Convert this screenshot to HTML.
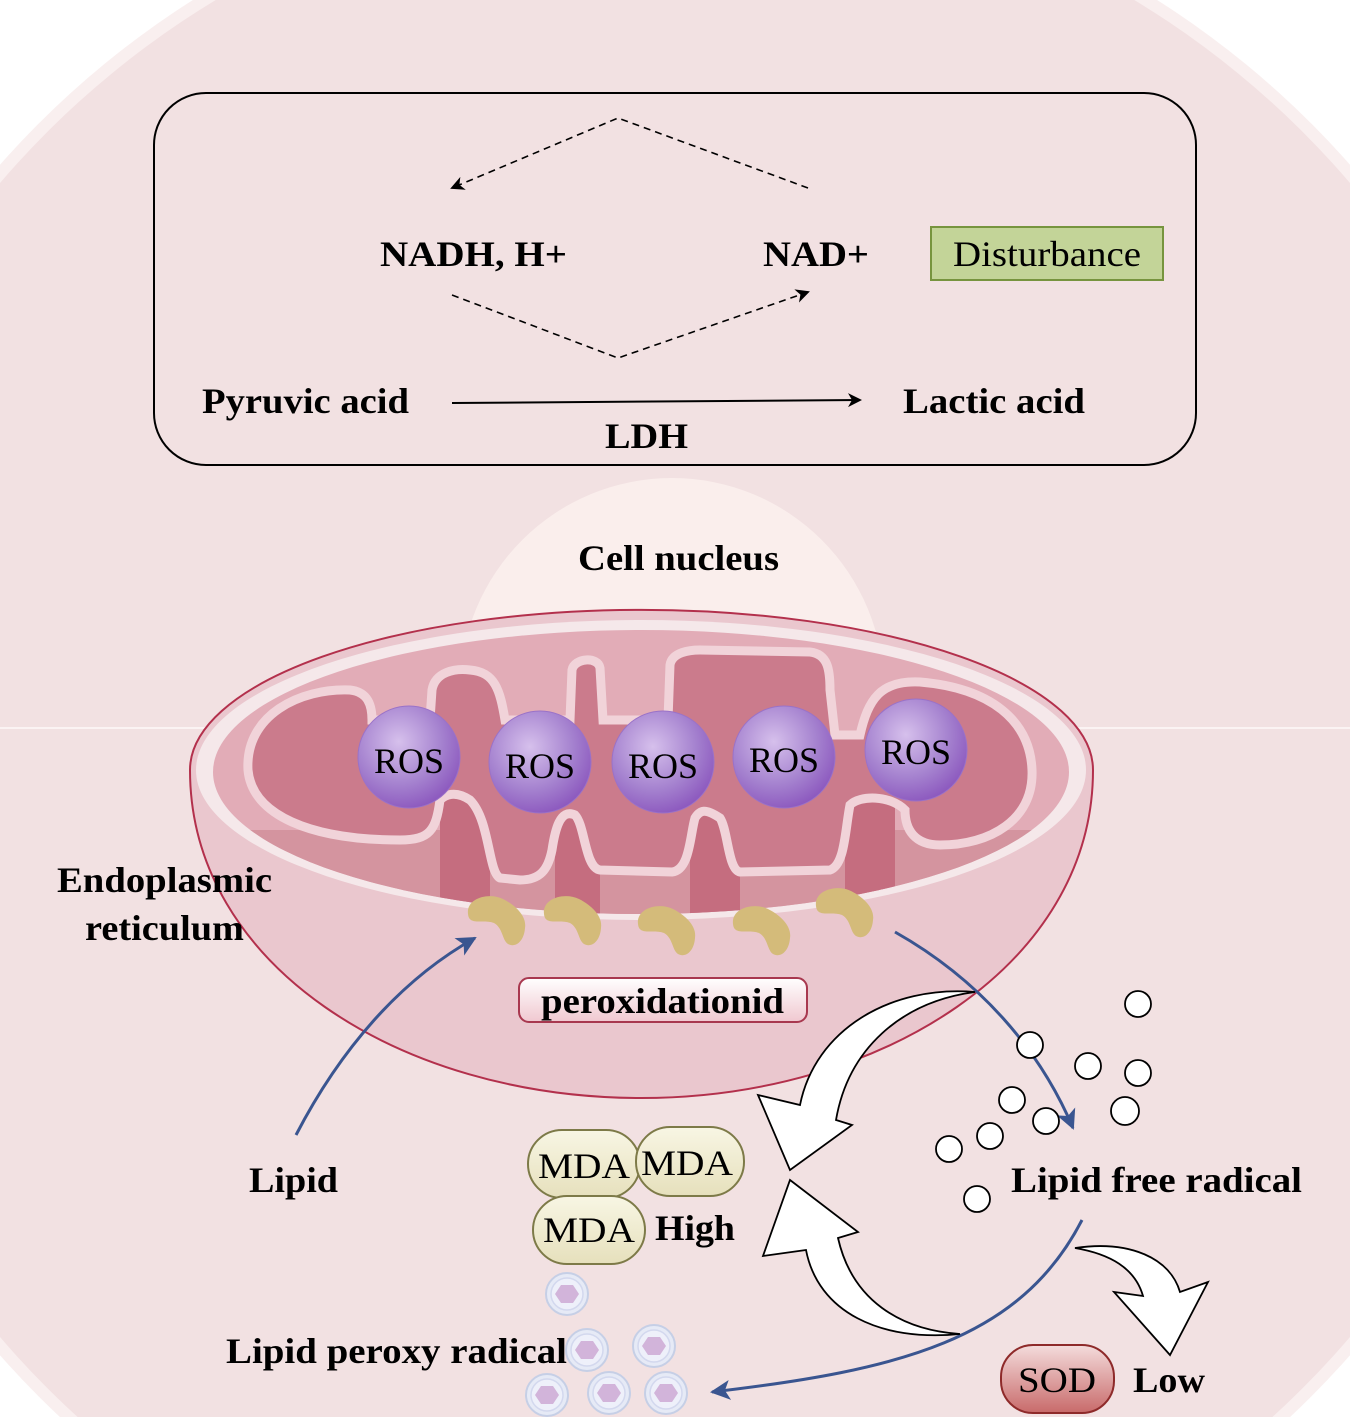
<!DOCTYPE html>
<html><head><meta charset="utf-8"><style>
html,body{margin:0;padding:0;background:#fff;width:1350px;height:1417px;overflow:hidden}
svg{display:block}
text{font-family:"Liberation Serif",serif}
.b{font-weight:bold}
</style></head><body>
<svg width="1350" height="1417" viewBox="0 0 1350 1417" xmlns="http://www.w3.org/2000/svg">
<defs>
<radialGradient id="ros" cx="0.4" cy="0.35" r="0.7">
<stop offset="0" stop-color="#d6c0ec"/><stop offset="0.6" stop-color="#a582cf"/><stop offset="1" stop-color="#8a55bd"/>
</radialGradient>
<linearGradient id="mda" x1="0" y1="0" x2="0" y2="1"><stop offset="0" stop-color="#f8f6e4"/><stop offset="1" stop-color="#e6e0bc"/></linearGradient>
<linearGradient id="sod" x1="0" y1="0" x2="0" y2="1"><stop offset="0" stop-color="#f4dcdc"/><stop offset="1" stop-color="#c86a6a"/></linearGradient>
<linearGradient id="per" x1="0" y1="0" x2="0" y2="1"><stop offset="0" stop-color="#ffffff"/><stop offset="1" stop-color="#f0c8d0"/></linearGradient>
<clipPath id="inner"><ellipse cx="641" cy="772" rx="428" ry="142"/></clipPath>
<marker id="ah" markerWidth="14" markerHeight="14" refX="12" refY="7" orient="auto" markerUnits="userSpaceOnUse"><path d="M0,0 L14,7 L0,14 L4,7Z" fill="#000"/></marker>
<marker id="bh" markerWidth="24" markerHeight="20" refX="18" refY="10" orient="auto" markerUnits="userSpaceOnUse"><path d="M0,0 L20,10 L0,20 L5,10Z" fill="#3a5590"/></marker>
<g id="blob"><path d="M-29,-4 C-31,-20 -8,-26 6,-19 C18,-13 30,-2 28,10 C27,24 18,30 11,26 C5,22 6,10 -3,5 C-14,1 -28,8 -29,-4Z" fill="#d4bb7a"/></g>
<g id="pc"><circle r="21" fill="#e6eaf6" stroke="#c6cfe6" stroke-width="2"/><circle r="16" fill="#eef0fa" stroke="#d3d8ee" stroke-width="1.5"/><polygon points="-12,0 -6,-9 6,-9 12,0 6,9 -6,9" fill="#d2b4da"/></g>
</defs>

<circle cx="675" cy="760" r="900" fill="#f9efef"/>
<circle cx="675" cy="760" r="888" fill="#f2e1e2"/>
<line x1="0" y1="728" x2="1350" y2="728" stroke="#fbf3f3" stroke-width="2"/>

<rect x="154" y="93" width="1042" height="372" rx="52" fill="none" stroke="#000" stroke-width="2"/>
<path d="M808,188 L618,118 L452,188" fill="none" stroke="#000" stroke-width="1.6" stroke-dasharray="7,5" marker-end="url(#ah)"/>
<path d="M452,295 L618,358 L808,292" fill="none" stroke="#000" stroke-width="1.6" stroke-dasharray="7,5" marker-end="url(#ah)"/>
<line x1="452" y1="403" x2="860" y2="400" stroke="#000" stroke-width="2" marker-end="url(#ah)"/>
<text class="b" x="380" y="266" font-size="36" textLength="187" lengthAdjust="spacingAndGlyphs">NADH, H+</text>
<text class="b" x="763" y="266" font-size="36" textLength="106" lengthAdjust="spacingAndGlyphs">NAD+</text>
<rect x="931" y="227" width="232" height="53" fill="#c3d498" stroke="#77943e" stroke-width="2"/>
<text x="953" y="266" font-size="36" textLength="188" lengthAdjust="spacingAndGlyphs">Disturbance</text>
<text class="b" x="202" y="413" font-size="36" textLength="207" lengthAdjust="spacingAndGlyphs">Pyruvic acid</text>
<text class="b" x="903" y="413" font-size="36" textLength="182" lengthAdjust="spacingAndGlyphs">Lactic acid</text>
<text class="b" x="605" y="448" font-size="36" textLength="83" lengthAdjust="spacingAndGlyphs">LDH</text>

<circle cx="672" cy="690" r="212" fill="#faeeec"/>
<text class="b" x="578" y="570" font-size="36" textLength="201" lengthAdjust="spacingAndGlyphs">Cell nucleus</text>

<path d="M190,770 A451,160 0 0 1 1093,770 C1093,965 880,1098 641,1098 C400,1098 190,965 190,770Z" fill="#eac7ce" stroke="#b3304c" stroke-width="2"/>
<ellipse cx="641" cy="770" rx="445" ry="150" fill="#f5e8ea"/>
<ellipse cx="641" cy="772" rx="428" ry="142" fill="#e2acb7"/>
<g clip-path="url(#inner)">
<rect x="200" y="830" width="900" height="100" fill="#d4949f"/>
<rect x="440" y="790" width="50" height="140" fill="#c56d7f"/>
<rect x="555" y="810" width="45" height="120" fill="#c56d7f"/>
<rect x="690" y="800" width="50" height="130" fill="#c56d7f"/>
<rect x="845" y="800" width="50" height="130" fill="#c56d7f"/>
</g>
<path d="M248,770 C245,715 300,688 350,690 C368,692 372,705 372,720 L430,720 L432,690 C435,672 455,668 470,670 C495,672 500,690 505,720 L570,720 L572,670 C574,658 598,656 600,668 L603,720 L668,720 L670,665 C672,652 690,650 700,650 L810,652 C828,654 830,670 830,690 L835,735 L860,735 C868,700 880,680 920,682 C990,688 1030,720 1032,770 C1034,820 990,845 940,845 C915,845 905,830 905,810 C890,795 860,795 850,805 C845,830 845,865 830,870 L740,872 C728,870 728,830 720,818 C705,808 700,810 695,818 C690,835 690,870 672,872 L600,870 C585,868 585,825 575,815 C560,808 555,830 552,850 C548,870 540,880 520,880 L500,878 C488,872 490,820 470,800 C455,790 445,795 440,800 C436,830 430,840 400,840 C310,840 252,815 248,770Z" fill="#cb7b8c" stroke="#f1d3d9" stroke-width="9"/>

<g font-size="36">
<circle cx="409" cy="757" r="51" fill="url(#ros)" stroke="#9a72c8"/><text x="409" y="773" text-anchor="middle">ROS</text>
<circle cx="540" cy="762" r="51" fill="url(#ros)" stroke="#9a72c8"/><text x="540" y="778" text-anchor="middle">ROS</text>
<circle cx="663" cy="762" r="51" fill="url(#ros)" stroke="#9a72c8"/><text x="663" y="778" text-anchor="middle">ROS</text>
<circle cx="784" cy="757" r="51" fill="url(#ros)" stroke="#9a72c8"/><text x="784" y="772" text-anchor="middle">ROS</text>
<circle cx="916" cy="750" r="51" fill="url(#ros)" stroke="#9a72c8"/><text x="916" y="764" text-anchor="middle">ROS</text>
</g>

<use href="#blob" x="497" y="918"/>
<use href="#blob" x="573" y="918"/>
<use href="#blob" x="667" y="928"/>
<use href="#blob" x="762" y="928"/>
<use href="#blob" x="845" y="910"/>

<rect x="519" y="978" width="288" height="44" rx="10" fill="url(#per)" stroke="#a8384f" stroke-width="2"/>
<text class="b" x="541" y="1013" font-size="36" textLength="243" lengthAdjust="spacingAndGlyphs">peroxidationid</text>

<text class="b" x="57" y="892" font-size="36" textLength="215" lengthAdjust="spacingAndGlyphs">Endoplasmic</text>
<text class="b" x="85" y="940" font-size="36" textLength="159" lengthAdjust="spacingAndGlyphs">reticulum</text>

<path d="M296,1135 C340,1050 400,980 475,938" fill="none" stroke="#3a5590" stroke-width="3" marker-end="url(#bh)"/>
<path d="M895,932 C980,980 1040,1050 1073,1128" fill="none" stroke="#3a5590" stroke-width="3" marker-end="url(#bh)"/>
<path d="M1082,1220 C1020,1340 900,1370 712,1392" fill="none" stroke="#3a5590" stroke-width="3" marker-end="url(#bh)"/>

<path d="M975,992 C890,985 815,1030 800,1105 L758,1095 L790,1170 L852,1125 L836,1120 C848,1050 900,1002 975,992Z" fill="#fff" stroke="#000" stroke-width="1.8"/>
<path d="M960,1334 C880,1342 818,1312 806,1250 L763,1256 L790,1180 L858,1232 L838,1238 C852,1300 900,1330 960,1334Z" fill="#fff" stroke="#000" stroke-width="1.8"/>
<path d="M1075,1248 C1130,1240 1170,1258 1180,1292 L1208,1282 L1170,1355 L1114,1292 L1143,1296 C1135,1268 1110,1254 1075,1248Z" fill="#fff" stroke="#000" stroke-width="1.8"/>

<g fill="#fff" stroke="#000" stroke-width="1.8">
<circle cx="1138" cy="1004" r="13"/><circle cx="1030" cy="1045" r="13"/><circle cx="1088" cy="1066" r="13"/>
<circle cx="1138" cy="1073" r="13"/><circle cx="1012" cy="1100" r="13"/><circle cx="1046" cy="1121" r="13"/>
<circle cx="1125" cy="1111" r="14"/><circle cx="990" cy="1136" r="13"/><circle cx="949" cy="1149" r="13"/>
<circle cx="977" cy="1199" r="13"/>
</g>

<text class="b" x="1011" y="1192" font-size="36" textLength="291" lengthAdjust="spacingAndGlyphs">Lipid free radical</text>
<text class="b" x="249" y="1192" font-size="36" textLength="89" lengthAdjust="spacingAndGlyphs">Lipid</text>

<g stroke="#7d7a48" stroke-width="2" fill="url(#mda)">
<rect x="528" y="1130" width="112" height="68" rx="34"/>
<rect x="636" y="1127" width="108" height="69" rx="34"/>
<rect x="533" y="1196" width="112" height="68" rx="34"/>
</g>
<g font-size="36">
<text x="584" y="1178" text-anchor="middle" textLength="92" lengthAdjust="spacingAndGlyphs">MDA</text>
<text x="687" y="1175" text-anchor="middle" textLength="92" lengthAdjust="spacingAndGlyphs">MDA</text>
<text x="589" y="1242" text-anchor="middle" textLength="92" lengthAdjust="spacingAndGlyphs">MDA</text>
</g>
<text class="b" x="655" y="1240" font-size="36" textLength="80" lengthAdjust="spacingAndGlyphs">High</text>

<use href="#pc" x="567" y="1294"/>
<use href="#pc" x="587" y="1350"/>
<use href="#pc" x="654" y="1346"/>
<use href="#pc" x="547" y="1395"/>
<use href="#pc" x="609" y="1393"/>
<use href="#pc" x="666" y="1393"/>
<text class="b" x="226" y="1363" font-size="36" textLength="341" lengthAdjust="spacingAndGlyphs">Lipid peroxy radical</text>

<rect x="1001" y="1345" width="113" height="68" rx="32" fill="url(#sod)" stroke="#8e2a2a" stroke-width="2"/>
<text x="1057" y="1392" font-size="36" text-anchor="middle" textLength="78" lengthAdjust="spacingAndGlyphs">SOD</text>
<text class="b" x="1133" y="1392" font-size="36" textLength="72" lengthAdjust="spacingAndGlyphs">Low</text>
</svg>
</body></html>
